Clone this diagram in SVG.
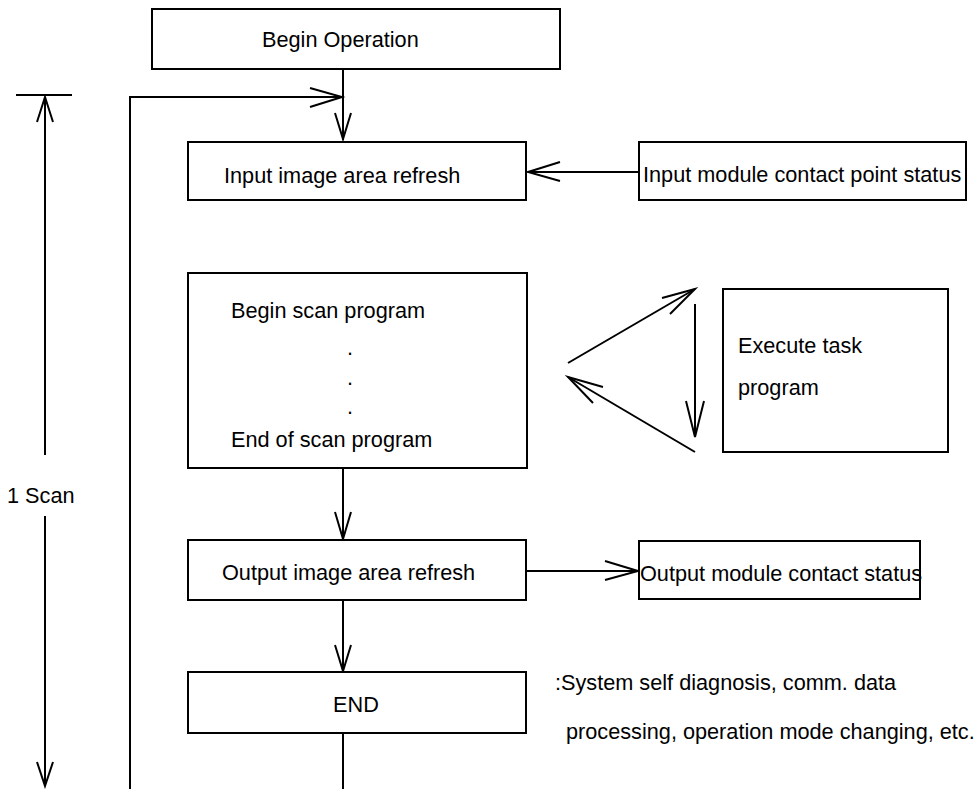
<svg xmlns="http://www.w3.org/2000/svg" width="979" height="789" viewBox="0 0 979 789">
<style>
.box{fill:#fff;stroke:#000;stroke-width:2}
.ln{fill:none;stroke:#000;stroke-width:2}
.ah{fill:none;stroke:#000;stroke-width:2;stroke-linejoin:miter}
text{font-family:"Liberation Sans",Arial,sans-serif;font-size:21.7px;fill:#000}
</style>
<rect width="979" height="789" fill="#fff"/>
<g id="connectors">
<!-- Begin -> Input -->
<line class="ln" x1="343" y1="69" x2="343" y2="140"/>
<polyline class="ah" points="335,113 343,139 351,113"/>
<!-- feedback loop -->
<polyline class="ln" points="130,789 130,97 342,97"/>
<polyline class="ah" points="310,88 342,97 310,107"/>
<!-- input module -> input refresh -->
<line class="ln" x1="639" y1="172" x2="528" y2="172"/>
<polyline class="ah" points="560,162 528,172 560,181"/>
<!-- scan program -> output refresh -->
<line class="ln" x1="343" y1="468" x2="343" y2="539"/>
<polyline class="ah" points="335,512 343,539 351,512"/>
<!-- output refresh -> output module -->
<line class="ln" x1="526" y1="571" x2="638" y2="571"/>
<polyline class="ah" points="605,561 638,571 605,580"/>
<!-- output refresh -> END -->
<line class="ln" x1="343" y1="600" x2="343" y2="671"/>
<polyline class="ah" points="335,645 343,671 351,645"/>
<!-- END -> down -->
<line class="ln" x1="343" y1="733" x2="343" y2="789"/>
<!-- task triangle -->
<line class="ln" x1="568" y1="363" x2="695" y2="289"/>
<polyline class="ah" points="662,298 695,289 670,314"/>
<line class="ln" x1="695" y1="304" x2="695" y2="437"/>
<polyline class="ah" points="686,401 695,437 704,401"/>
<line class="ln" x1="695" y1="452" x2="568" y2="377"/>
<polyline class="ah" points="603,387 568,377 593,403"/>
<!-- 1 Scan dimension -->
<line class="ln" x1="16" y1="95" x2="72" y2="95"/>
<line class="ln" x1="45" y1="97" x2="45" y2="455"/>
<polyline class="ah" points="37,122 45,97 53,122"/>
<line class="ln" x1="45" y1="516" x2="45" y2="786"/>
<polyline class="ah" points="37,762 45,786 53,762"/>
</g>
<g id="begin-operation">
<rect class="box" x="152" y="9" width="408" height="60"/>
<text x="262" y="47">Begin Operation</text>
</g>
<g id="input-refresh">
<rect class="box" x="188" y="142" width="338" height="58"/>
<text x="224" y="183">Input image area refresh</text>
</g>
<g id="input-module">
<rect class="box" x="639" y="142" width="327" height="58"/>
<text x="643" y="182">Input module contact point status</text>
</g>
<g id="scan-program">
<rect class="box" x="188" y="273" width="339" height="195"/>
<text x="231" y="318">Begin scan program</text>
<text x="347" y="355">.</text>
<text x="347" y="385">.</text>
<text x="347" y="414">.</text>
<text x="231" y="447">End of scan program</text>
</g>
<g id="task-program">
<rect class="box" x="723" y="289" width="225" height="163"/>
<text x="738" y="353">Execute task</text>
<text x="738" y="395">program</text>
</g>
<g id="output-refresh">
<rect class="box" x="188" y="540" width="338" height="60"/>
<text x="222" y="580">Output image area refresh</text>
</g>
<g id="output-module">
<rect class="box" x="639" y="541" width="281" height="58"/>
<text x="640" y="581">Output module contact status</text>
</g>
<g id="end">
<rect class="box" x="188" y="672" width="338" height="61"/>
<text x="333" y="712">END</text>
</g>
<g id="notes">
<text x="555" y="690">:System self diagnosis, comm. data</text>
<text x="566" y="739">processing, operation mode changing, etc.</text>
<text x="7" y="503">1 Scan</text>
</g>
</svg>
